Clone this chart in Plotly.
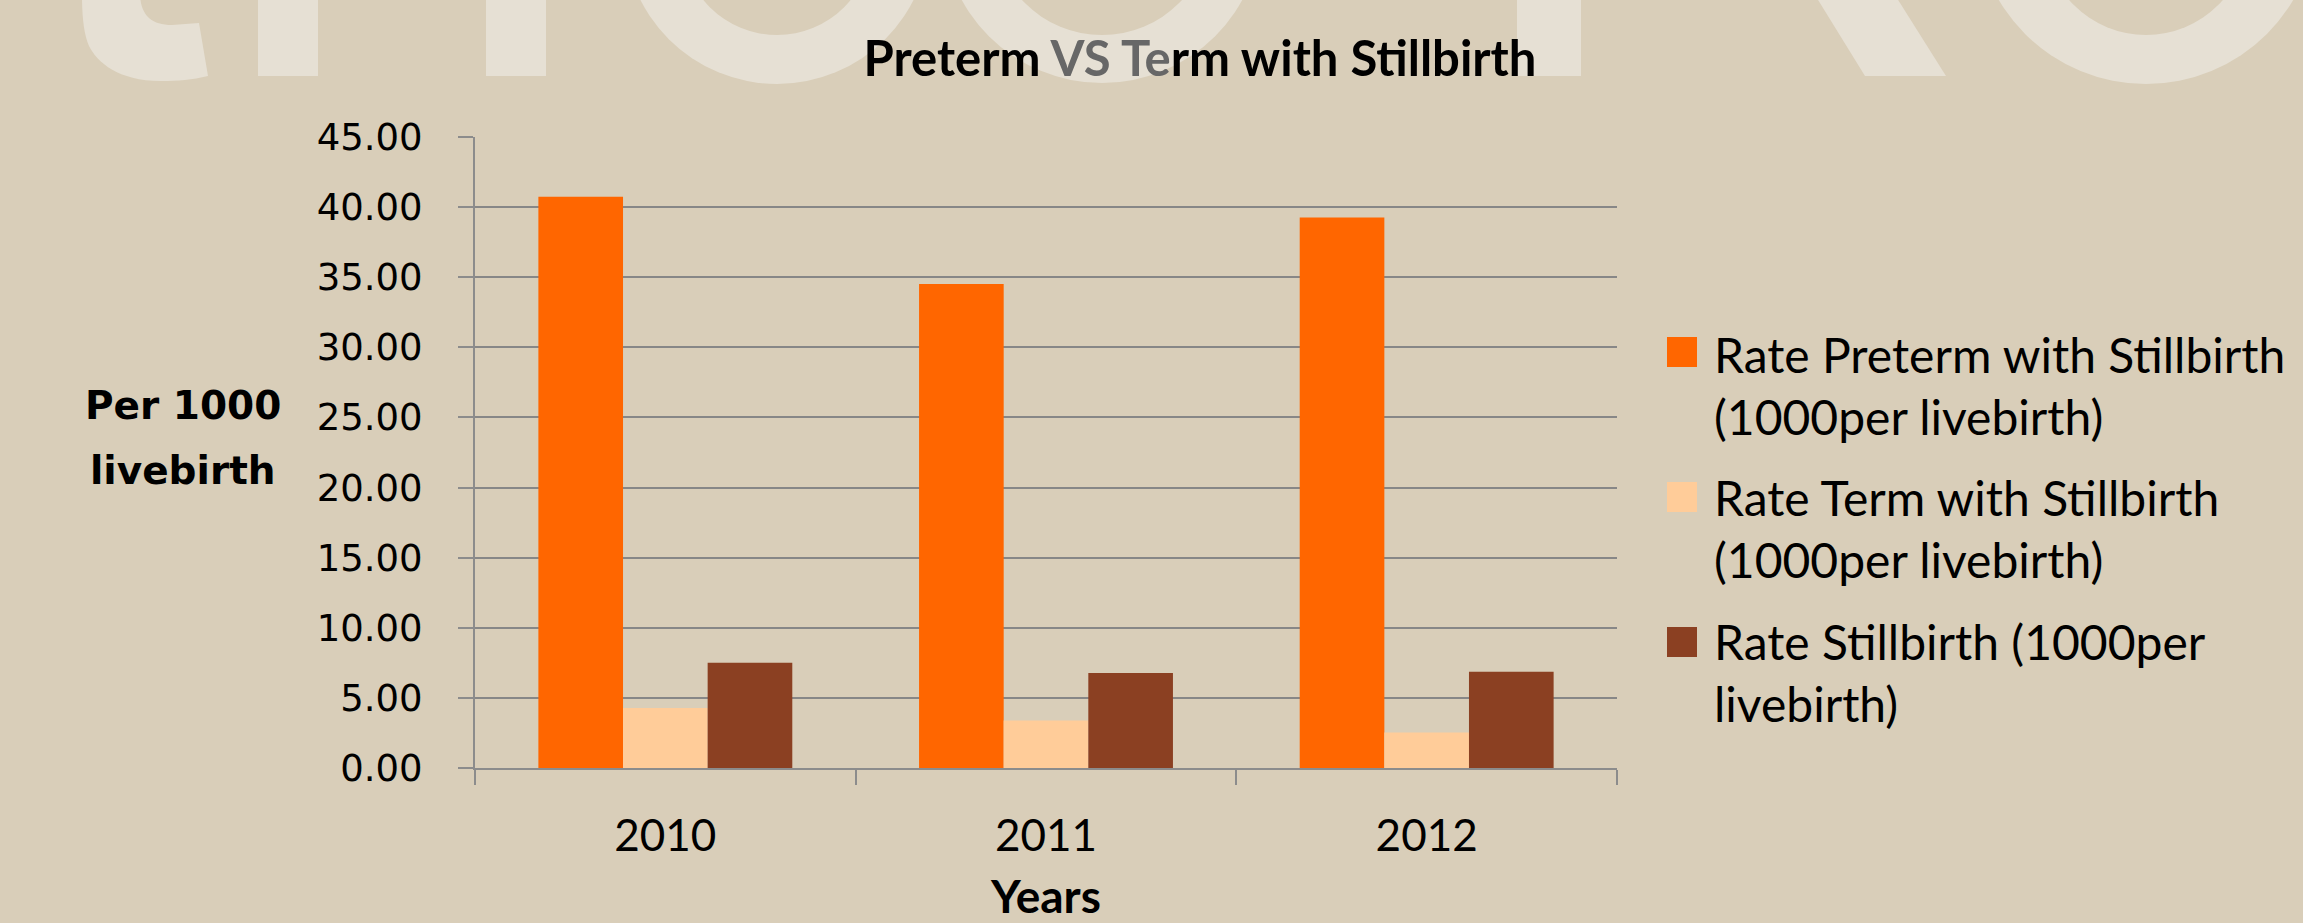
import plotly.graph_objects as go

# ---------------- data ----------------
years = ["2010", "2011", "2012"]
series_names = [
    "Rate Preterm with Stillbirth (1000per livebirth)",
    "Rate Term with Stillbirth (1000per livebirth)",
    "Rate Stillbirth (1000per livebirth)",
]
legend_labels = [
    "Rate Preterm with Stillbirth<br>(1000per livebirth)",
    "Rate Term with Stillbirth<br>(1000per livebirth)",
    "Rate Stillbirth (1000per<br>livebirth)",
]
preterm_rate = [40.73, 34.52, 39.26]
term_rate = [4.28, 3.38, 2.53]
stillbirth_rate = [7.51, 6.78, 6.87]
y_ticks = [0, 5, 10, 15, 20, 25, 30, 35, 40, 45]

colors = ["#FF6600", "#FFCC99", "#8B4022"]
BG = "#D9CEB9"
WM = "#E6E0D4"
GRID = "#878787"

W, H = 2303, 923
L, R, T, B = 475, 2303 - 1617, 137, 923 - 768
PW, PH = W - L - R, H - T - B


def px(x):
    return (x - L) / PW


def py(y):
    return (H - B - y) / PH


fig = go.Figure()
for name, vals, col in zip(series_names, [preterm_rate, term_rate, stillbirth_rate], colors):
    fig.add_trace(go.Bar(x=years, y=vals, name=name, marker=dict(color=col, line=dict(width=0)),
                         showlegend=False))

shapes = []
# ---- watermark (decorative large letters cut off at top of slide) ----
path = (f"M {px(82)},{py(-5)} L {px(140)},{py(-5)} "
        f"C {px(141)},{py(14)} {px(150)},{py(25)} {px(172)},{py(25)} "
        f"L {px(199)},{py(23)} L {px(208)},{py(76)} "
        f"C {px(192)},{py(80)} {px(178)},{py(81)} {px(161)},{py(81)} "
        f"C {px(118)},{py(81)} {px(97)},{py(62)} {px(89)},{py(46)} "
        f"C {px(84)},{py(34)} {px(82)},{py(18)} {px(82)},{py(-5)} Z")
shapes.append(dict(type="path", path=path, xref="paper", yref="paper",
                   fillcolor=WM, line=dict(width=0), layer="below"))
for x0, x1 in [(258, 318), (486, 546), (1517, 1581)]:
    shapes.append(dict(type="rect", xref="paper", yref="paper", x0=px(x0), x1=px(x1),
                       y0=py(76), y1=py(-5), fillcolor=WM, line=dict(width=0), layer="below"))
dpath = (f"M {px(1815)},{py(-5)} L {px(1895)},{py(-5)} L {px(1946)},{py(76)} "
         f"L {px(1865)},{py(76)} Z")
shapes.append(dict(type="path", path=dpath, xref="paper", yref="paper",
                   fillcolor=WM, line=dict(width=0), layer="below"))
for cx, ro, bo, ri, bi in [(777, 153, 84, 95, 35), (1102, 160, 83, 109, 35), (2146, 171, 84, 102, 35)]:
    shapes.append(dict(type="circle", xref="paper", yref="paper",
                       x0=px(cx - ro), x1=px(cx + ro), y0=py(bo), y1=py(bo - 2 * ro),
                       fillcolor=WM, line=dict(width=0), layer="below"))
    shapes.append(dict(type="circle", xref="paper", yref="paper",
                       x0=px(cx - ri), x1=px(cx + ri), y0=py(bi), y1=py(bi - 2 * ri),
                       fillcolor=BG, line=dict(width=0), layer="below"))

annotations = []
# ---- manual legend ----
sq_centers = [352, 497, 642]
txt_centers = [385, 528, 672]
for lab, col, sc, tc in zip(legend_labels, colors, sq_centers, txt_centers):
    shapes.append(dict(type="rect", xref="paper", yref="paper", x0=px(1667), x1=px(1697),
                       y0=py(sc + 15), y1=py(sc - 15), fillcolor=col, line=dict(width=0)))
    annotations.append(dict(text=lab, xref="paper", yref="paper", x=px(1712), y=py(tc),
                            xanchor="left", yanchor="middle", align="left", showarrow=False,
                            font=dict(family="Lato", size=48, color="#000000")))

# ---- y-axis title (horizontal, two lines) ----
for txt, cy in [("Per 1000", 405), ("livebirth", 470)]:
    annotations.append(dict(text=f"<b>{txt}</b>", xref="paper", yref="paper", x=px(183), y=py(cy),
                            xanchor="center", yanchor="middle", showarrow=False,
                            font=dict(family="DejaVu Sans", size=39, color="#000000")))

fig.update_layout(
    width=W, height=H,
    margin=dict(l=L, r=R, t=T, b=B, pad=0, autoexpand=False),
    paper_bgcolor=BG, plot_bgcolor=BG,
    barmode="group", bargap=0.333, bargroupgap=0,
    title=dict(text="<b>Preterm <span style='color:#676767'>VS Te</span>rm with Stillbirth</b>",
               x=1200 / W, xanchor="center", xref="container",
               y=1 - 59 / H, yanchor="middle", yref="container",
               font=dict(family="Lato", size=49, color="#000000")),
    shapes=shapes,
    annotations=annotations,
    showlegend=False,
)
fig.update_yaxes(range=[0, 45], tickvals=y_ticks, tickformat=".2f", automargin=False,
                 showgrid=True, gridcolor=GRID, gridwidth=2, zeroline=False,
                 showline=True, linecolor="#8C8C8C", linewidth=2,
                 ticks="outside", ticklen=15, tickwidth=2, tickcolor="#8C8C8C",
                 ticklabelstandoff=28,
                 tickfont=dict(family="DejaVu Sans", size=37, color="#000000"))
fig.update_xaxes(type="category", automargin=False,
                 showline=True, linecolor="#8C8C8C", linewidth=2,
                 ticks="outside", ticklen=15, tickwidth=2, tickcolor="#8C8C8C",
                 tickson="boundaries", showgrid=False,
                 ticklabelstandoff=28,
                 tickfont=dict(family="Lato", size=44, color="#000000"),
                 title=dict(text="<b>Years</b>", standoff=26,
                            font=dict(family="Lato", size=46, color="#000000")))

fig.write_html("out.html", config={"displayModeBar": False},
               post_script="document.body.style.margin='0';")
